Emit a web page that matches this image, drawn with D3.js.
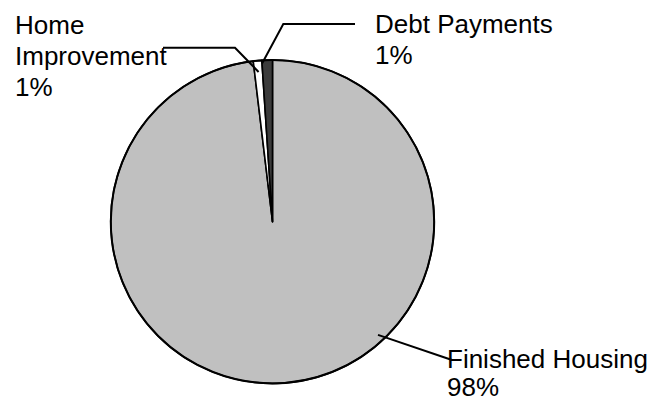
<!DOCTYPE html>
<html>
<head>
<meta charset="utf-8">
<script src="https://cdn.jsdelivr.net/npm/d3@7"></script>
<style>
  html, body { margin: 0; padding: 0; background: #fff; }
  svg { display: block; }
  text { font-family: "Liberation Sans", Arial, sans-serif; fill: #000; }
</style>
</head>
<body>
<svg id="chart" width="652" height="402"></svg>
<script>
// Spending breakdown, drawn clockwise from 12 o'clock
const categories = ["Finished Housing", "Home Improvement", "Debt Payments"];
const values = [98.1, 0.85, 1.05];
const colors = ["#c0c0c0", "#ffffff", "#3c3c3c"];

const W = 652, H = 402;
const cx = 272.5, cy = 221.7, R = 161.7;
const fontSize = 26;

// Label layout: where the leader leaves the slice (fraction across slice, fraction of radius),
// the elbow / end of leader, and the text block anchor.
const labelLayout = [
  { t: 0.388, rf: 0.957, path: [[452, 360]], tx: 447, ty: 368, gap: 28 },
  { t: 0.5, rf: 0.93, path: [[235, 47.7], [163, 47.7]], tx: 15, ty: 34, gap: 31 },
  { t: 0.0, rf: 0.98, path: [[283.3, 24], [355, 24]], tx: 375, ty: 33, gap: 31 }
];

const svg = d3.select("#chart");
const g = svg.append("g").attr("transform", `translate(${cx},${cy})`);

const pie = d3.pie().sort(null).value(d => d.value);
const arcs = pie(categories.map((c, i) => ({ name: c, value: values[i], color: colors[i] })));
const arc = d3.arc().innerRadius(0).outerRadius(R);

g.selectAll("path.slice")
  .data(arcs)
  .join("path")
  .attr("class", "slice")
  .attr("d", arc)
  .attr("fill", d => d.data.color)
  .attr("stroke", "#000")
  .attr("stroke-width", 1.6)
  .attr("stroke-linejoin", "round");

// outer rim
g.append("circle").attr("r", R).attr("fill", "none").attr("stroke", "#000").attr("stroke-width", 2);

const total = d3.sum(values);
const line = d3.line();

arcs.forEach((a, i) => {
  const L = labelLayout[i];
  const ang = a.startAngle + (a.endAngle - a.startAngle) * L.t;
  const r = R * L.rf;
  const p0 = [cx + r * Math.sin(ang), cy - r * Math.cos(ang)];
  svg.append("path")
    .attr("d", line([p0, ...L.path]))
    .attr("fill", "none")
    .attr("stroke", "#000")
    .attr("stroke-width", 2);

  const words = a.data.name === "Home Improvement" ? ["Home", "Improvement"] : [a.data.name];
  const lines = [...words, Math.round(a.data.value / total * 100) + "%"];
  const t = svg.append("text")
    .attr("x", L.tx).attr("y", L.ty)
    .attr("font-size", fontSize);
  lines.forEach((s, k) => {
    t.append("tspan").attr("x", L.tx).attr("y", L.ty + k * L.gap).text(s);
  });
});
</script>
</body>
</html>
